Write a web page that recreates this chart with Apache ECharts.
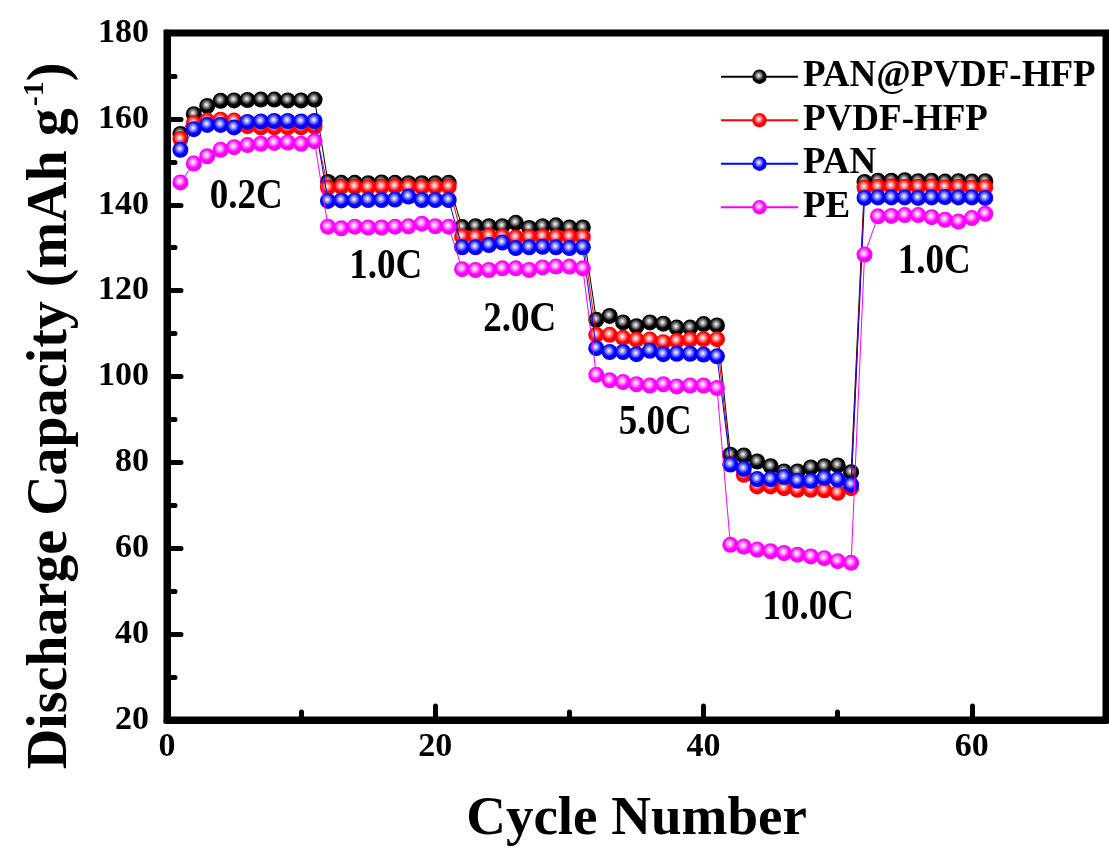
<!DOCTYPE html>
<html><head><meta charset="utf-8">
<script src="https://cdn.jsdelivr.net/npm/echarts@6/dist/echarts.min.js"></script>
<style>html,body{margin:0;padding:0;background:#fff}#c{width:1109px;height:858px}</style>
</head><body><div id="c"></div>
<script>
const cycles = [1,2,3,4,5,6,7,8,9,10,11,12,13,14,15,16,17,18,19,20,21,22,23,24,25,26,27,28,29,30,31,32,33,34,35,36,37,38,39,40,41,42,43,44,45,46,47,48,49,50,51,52,53,54,55,56,57,58,59,60,61];
const seriesNames = ['PAN@PVDF-HFP','PVDF-HFP','PAN','PE'];
const panPvdf = [156.5,161.1,163.0,164.2,164.3,164.4,164.5,164.5,164.3,164.3,164.5,
  145.3,145.1,145.1,145.0,145.2,145.1,145.0,145.0,145.0,145.1,
  134.8,135.0,135.0,135.0,135.8,134.6,135.0,135.2,134.7,134.7,
  113.2,114.1,112.6,111.7,112.6,112.3,111.4,111.4,112.2,111.9,
  81.8,81.6,80.2,79.1,77.9,77.9,78.8,79.1,79.3,77.7,
  145.3,145.6,145.6,145.7,145.5,145.6,145.4,145.5,145.4,145.5];
const pvdf = [155.3,159.0,159.6,159.8,159.6,158.3,158.0,158.0,158.0,158.0,158.2,
  144.0,144.2,144.2,144.1,144.2,144.3,144.2,144.1,144.2,144.2,
  132.6,132.5,132.8,132.6,132.4,132.5,132.6,132.5,132.6,132.5,
  109.7,109.7,109.0,108.6,108.6,108.0,108.3,108.6,108.7,108.7,
  79.6,77.1,74.4,74.4,74.0,73.6,73.6,73.5,72.9,74.0,
  144.0,144.2,144.3,144.2,144.2,144.3,144.1,144.2,144.0,144.1];
const pan = [152.8,157.6,158.6,158.6,158.0,159.3,159.4,159.5,159.5,159.4,159.5,
  140.9,141.0,141.0,141.1,141.1,141.2,141.9,141.1,141.1,141.1,
  130.1,130.1,130.6,131.2,129.9,130.1,130.2,130.1,129.9,130.1,
  106.6,105.7,105.7,105.2,106.0,105.2,105.3,105.3,105.1,104.7,
  79.5,78.5,76.1,76.1,76.6,75.7,75.7,76.4,76.0,74.8,
  141.6,141.7,141.7,141.7,141.6,141.7,141.8,141.7,141.7,141.6];
const pe = [145.2,149.6,151.3,152.8,153.4,153.9,154.2,154.4,154.5,154.2,154.8,
  134.9,134.5,134.9,134.7,134.7,134.9,135.0,135.6,135.0,134.9,
  125.0,124.8,124.8,125.2,125.2,124.8,125.4,125.6,125.6,125.2,
  100.4,99.1,98.7,98.2,97.9,98.2,97.7,97.9,97.9,97.3,
  60.8,60.4,59.7,59.3,58.9,58.5,58.1,57.7,57.0,56.6,
  128.4,137.3,137.4,137.6,137.6,137.1,136.5,136.1,136.9,137.9];
const xTicks = [0,20,40,60];
const yTicks = [20,40,60,80,100,120,140,160,180];
const rateLabels = ['0.2C','1.0C','2.0C','5.0C','10.0C','1.0C'];
const rateLabelAt = [[5.9,141.8],[16.3,125.5],[26.3,113.2],[36.4,89.2],[47.8,46.2],[57.2,126.7]];

const FONT = "'Liberation Serif','Times New Roman',serif";
const palette = [['#000000','#b0b0b0'],['#ff0000','#ffb0b0'],['#0000ff','#b0b0ff'],['#ff00ff','#ffb8ff']];
function ball(base, light){
  return {type:'radial', x:0.45, y:0.42, r:0.6, colorStops:[
    {offset:0,color:'#ffffff'},{offset:0.2,color:light},{offset:0.6,color:base},{offset:1,color:base}]};
}
const dataSets = [panPvdf, pvdf, pan, pe];
const chart = echarts.init(document.getElementById('c'), null, {renderer:'canvas'});
const series = dataSets.map((d, i) => ({
  name: seriesNames[i], type:'line', xAxisIndex:0, yAxisIndex:0,
  data: cycles.map((c, k) => [c, d[k]]),
  symbol:'circle', symbolSize:16, showSymbol:true,
  lineStyle:{color:palette[i][0], width:1},
  itemStyle:{color:ball(palette[i][0], palette[i][1])},
  emphasis:{disabled:true}, z: 2 + i
}));
const tickStyle = {color:'#000', width:5, cap:'round'};
chart.setOption({
  animation:false,
  backgroundColor:'#fff',
  grid:{left:167, right:3, top:33, bottom:138, show:true, borderColor:'#000', borderWidth:7, backgroundColor:'transparent'},
  legend:{
    orient:'vertical', left:715, top:50, itemGap:0, itemWidth:77, itemHeight:18,
    data: seriesNames,
    textStyle:{fontFamily:FONT, fontWeight:'bold', fontSize:37, color:'#000', lineHeight:43.5},
    selectedMode:false
  },
  xAxis:[{
    type:'value', min:0, max:70, interval:20, position:'bottom',
    axisLine:{show:true, onZero:false, lineStyle:{color:'#000', width:7}},
    axisTick:{show:true, inside:true, length:14, lineStyle:tickStyle},
    minorTick:{show:false},
    axisLabel:{margin:10, fontFamily:FONT, fontWeight:'bold', fontSize:34, color:'#000', showMaxLabel:false,
      formatter: v => xTicks.indexOf(v) >= 0 ? String(v) : ''},
    splitLine:{show:false},
    name:'Cycle Number', nameLocation:'middle', nameGap:72,
    nameTextStyle:{fontFamily:FONT, fontWeight:'bold', fontSize:55, color:'#000'}
  },{
    type:'value', min:0, max:70, interval:10, position:'bottom',
    axisLine:{show:false}, axisLabel:{show:false}, splitLine:{show:false},
    axisTick:{show:true, inside:true, length:8, lineStyle:tickStyle}
  }],
  yAxis:{
    type:'value', min:20, max:180, interval:20,
    axisLine:{show:true, onZero:false, lineStyle:{color:'#000', width:7}},
    axisTick:{show:true, inside:true, length:14, lineStyle:tickStyle},
    minorTick:{show:true, splitNumber:2, length:8, lineStyle:tickStyle},
    axisLabel:{margin:18, fontFamily:FONT, fontWeight:'bold', fontSize:34, color:'#000',
      formatter: v => yTicks.indexOf(v) >= 0 ? String(v) : ''},
    splitLine:{show:false}
  },
  series: series
});
const g = rateLabels.map((t, i) => {
  const p = chart.convertToPixel({gridIndex:0}, rateLabelAt[i]);
  return {type:'text', x:p[0], y:p[1], scaleY:1.15, z:100,
    style:{text:t, font:'bold 37px ' + FONT, fill:'#000', align:'center', verticalAlign:'middle', textAlign:'center', textVerticalAlign:'middle'}};
});
g.push({type:'text', x:50, y:416, rotation:Math.PI/2, z:100,
  style:{text:'{a|Discharge Capacity (mAh g}{s|-1}{a|)}', fill:'#000', align:'center', verticalAlign:'middle',
    rich:{a:{font:'bold 56px ' + FONT, fill:'#000', lineHeight:60, verticalAlign:'bottom'},
          s:{font:'bold 30px ' + FONT, fill:'#000', lineHeight:60, verticalAlign:'top', padding:[0,0,22,2]}}}});
chart.setOption({graphic:g});
</script></body></html>
